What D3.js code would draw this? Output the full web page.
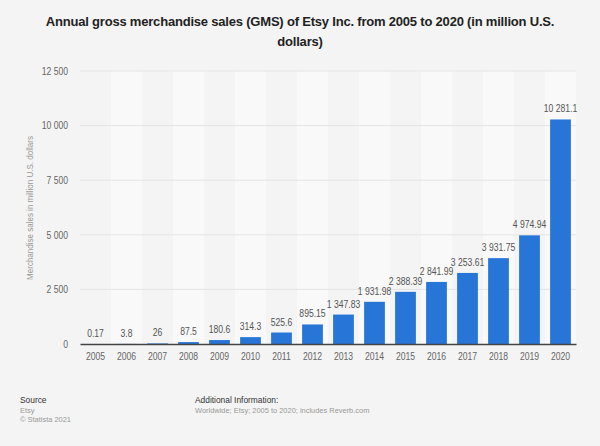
<!DOCTYPE html>
<html><head><meta charset="utf-8">
<script src="https://cdn.jsdelivr.net/npm/d3@7"></script>
<style>body{margin:0;background:#f4f4f4;}svg{display:block;font-family:"Liberation Sans",Arial,sans-serif;}</style>
</head><body>
<script>
const years = ["2005","2006","2007","2008","2009","2010","2011","2012","2013","2014","2015","2016","2017","2018","2019","2020"];
const values = [0.17,3.8,26,87.5,180.6,314.3,525.6,895.15,1347.83,1931.98,2388.39,2841.99,3253.61,3931.75,4974.94,10281.1];
const labels = ["0.17","3.8","26","87.5","180.6","314.3","525.6","895.15","1 347.83","1 931.98","2 388.39","2 841.99","3 253.61","3 931.75","4 974.94","10 281.1"];
const yTicks = [0,2500,5000,7500,10000,12500];

const W=600,H=446;
const svg=d3.select("body").append("svg").attr("width",W).attr("height",H);
svg.append("rect").attr("width",W).attr("height",H).attr("fill","#f4f4f4");

function squeeze(sel,f){
  sel.each(function(){
    const L=this.getComputedTextLength();
    d3.select(this).attr("textLength",L*f).attr("lengthAdjust","spacingAndGlyphs");
  });
}

const x=d3.scaleBand().domain(years).range([80,576]).paddingInner(0.33).paddingOuter(0.165);
const y=d3.scaleLinear().domain([0,12500]).range([344,71]);
const xb=d3.scaleBand().domain(years).range([80,576]);

// alternating stripes
svg.append("g").selectAll("rect").data(years).join("rect")
  .attr("x",d=>xb(d)).attr("width",xb.bandwidth()).attr("y",71).attr("height",344-71)
  .attr("fill",(d,i)=>i%2?"#f9f9f9":"#f4f4f4");

// gridlines
svg.append("g").selectAll("line").data(yTicks.filter(d=>d>0)).join("line")
  .attr("x1",80).attr("x2",576).attr("y1",d=>y(d)).attr("y2",d=>y(d))
  .attr("stroke","#e4e4e4").attr("stroke-width",1);

// y axis
const ya=svg.append("g").attr("transform","translate(80,0)")
  .call(d3.axisLeft(y).tickValues(yTicks).tickSize(0).tickPadding(12)
  .tickFormat(d=>d3.format(",")(d).replace(/,/g," ")));
ya.select(".domain").remove();
ya.selectAll("text").attr("font-size",10).attr("fill","#666").attr("font-family","Liberation Sans, Arial, sans-serif");
squeeze(ya.selectAll("text"),0.86);

// bars
svg.append("g").selectAll("rect").data(values).join("rect")
  .attr("x",(d,i)=>x(years[i])).attr("width",x.bandwidth())
  .attr("y",d=>y(d)).attr("height",d=>344-y(d)).attr("fill","#2875d8");

// value labels
const vl=svg.append("g").selectAll("text").data(values).join("text")
  .attr("x",(d,i)=>x(years[i])+x.bandwidth()/2).attr("y",d=>y(d)-7)
  .attr("text-anchor","middle").attr("font-size",10).attr("fill","#555")
  .text((d,i)=>labels[i]);
squeeze(vl,0.86);

// x axis
const xa=svg.append("g").attr("transform","translate(0,344)")
  .call(d3.axisBottom(xb).tickSize(0).tickPadding(9));
xa.select(".domain").attr("stroke","#444").attr("stroke-width",1.3);
xa.selectAll("text").attr("font-size",10).attr("fill","#666").attr("font-family","Liberation Sans, Arial, sans-serif");
squeeze(xa.selectAll("text"),0.86);

// y label
const yl=svg.append("text").attr("transform","translate(33,208) rotate(-90)")
  .attr("text-anchor","middle").attr("font-size",9).attr("fill","#999")
  .text("Merchandise sales in million U.S. dollars");
squeeze(yl,0.89);

// title
svg.append("text").attr("x",300).attr("y",26).attr("text-anchor","middle")
  .attr("font-size",13).attr("font-weight","bold").attr("fill","#222").attr("letter-spacing",-0.2)
  .text("Annual gross merchandise sales (GMS) of Etsy Inc. from 2005 to 2020 (in million U.S.");
svg.append("text").attr("x",300).attr("y",46).attr("text-anchor","middle")
  .attr("font-size",13).attr("font-weight","bold").attr("fill","#222").attr("letter-spacing",-0.2)
  .text("dollars)");

// footer
const ft=[
  svg.append("text").attr("x",20).attr("y",403).attr("font-size",9).attr("fill","#333").text("Source"),
  svg.append("text").attr("x",20).attr("y",413).attr("font-size",8).attr("fill","#999").text("Etsy"),
  svg.append("text").attr("x",20).attr("y",422).attr("font-size",8).attr("fill","#999").text("© Statista 2021"),
  svg.append("text").attr("x",195).attr("y",403).attr("font-size",9).attr("fill","#333").text("Additional Information:"),
  svg.append("text").attr("x",195).attr("y",413).attr("font-size",8).attr("fill","#999").text("Worldwide; Etsy; 2005 to 2020; includes Reverb.com")
];
ft.forEach(s=>squeeze(s,0.93));
</script>
</body></html>
